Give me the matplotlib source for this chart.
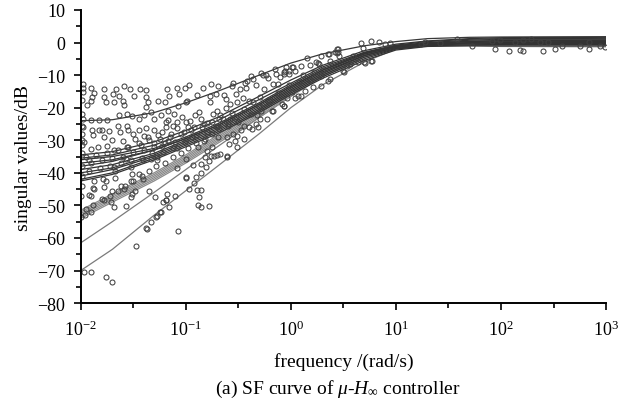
import numpy as np
import matplotlib
matplotlib.use('Agg')
import matplotlib.pyplot as plt
from matplotlib.ticker import FixedLocator, FuncFormatter

plt.rcParams['font.family'] = ['Liberation Serif', 'DejaVu Serif']
plt.rcParams['mathtext.fontset'] = 'custom'
plt.rcParams['mathtext.rm'] = 'Liberation Serif'
plt.rcParams['mathtext.it'] = 'Liberation Serif:italic'

# frequency grid of the singular value curves (rad/s)
freq = [0.01, 0.02, 0.05, 0.1, 0.2, 0.5, 1, 2, 5, 10, 20, 50, 100, 1000]

# singular value curves, dB
top_curve = [-24, -23.7, -21.5, -18.5, -15, -10, -6.3, -3.5, -1, 0.3, 1.2, 1.6, 1.7, 1.8]
dark_curves = [
    [-34.5, -33.5, -30.5, -27, -23, -16.5, -11.5, -7, -2.5, -0.5, 0.5, 1.2, 1.5, 1.6],
    [-35.5, -34.5, -31.5, -28, -24, -17.5, -12.5, -7.5, -3, -0.8, 0.3, 1, 1.2, 1.3],
    [-36, -35, -32.5, -29, -25, -18.5, -13, -8, -3.2, -1, 0, 0.7, 1, 1],
    [-37, -36, -33, -29.5, -25.5, -19, -13.5, -8.5, -3.5, -1.2, -0.2, 0.4, 0.6, 0.7],
    [-38, -36.5, -33, -29.5, -25.5, -19, -13.5, -8.5, -3.5, -1.2, -0.3, 0.3, 0.5, 0.5],
    [-39, -37.5, -34, -30, -26, -19.5, -14, -9, -4, -1.5, -0.5, 0, 0.2, 0.3],
    [-40, -38.5, -34.5, -30.5, -26.5, -20, -14.5, -9.5, -4, -1.5, -0.6, -0.2, 0, 0],
    [-41, -39, -35, -31, -27, -20.5, -15, -10, -4.5, -1.8, -0.8, -0.4, -0.3, -0.3],
    [-42, -40, -35.5, -31.5, -27.5, -21, -15.5, -10.5, -5, -2, -1, -0.7, -0.6, -0.6],
    [-42.5, -40.5, -36, -32, -28, -21.5, -16, -11, -5.5, -2.3, -1.2, -1, -1, -1],
]
gray_curves = [
    [-51.5, -46.5, -40, -34.5, -28.5, -20.5, -14, -8.5, -3, -1, -0.2, 0.3, 0.5, 0.5],
    [-52, -47, -40.5, -35, -29, -21, -14.5, -9, -3.3, -1.2, -0.3, 0.2, 0.3, 0.3],
    [-52.5, -47.5, -41, -35.5, -29.5, -21.5, -15, -9.3, -3.5, -1.3, -0.4, 0, 0.1, 0.1],
    [-53, -48, -41.5, -36, -30, -22, -15.5, -9.6, -3.7, -1.4, -0.5, -0.2, -0.2, -0.2],
    [-53.5, -48.5, -42, -36.5, -30.5, -22.5, -16, -10, -4, -1.5, -0.6, -0.4, -0.4, -0.4],
    [-54, -49, -42.5, -37, -31, -23, -16.5, -10.3, -4.2, -1.6, -0.8, -0.6, -0.6, -0.6],
]
low_curves = [
    [-61.5, -55, -46, -39, -32, -23, -16.5, -10.5, -4.5, -1.8, -0.8, -0.5, -0.5, -0.5],
    [-70, -63.5, -53, -45.5, -38, -28, -20, -13, -6, -2, -1, -1, -1.2, -1.3],
]

# measured points: (log10 frequency, dB)
pts_top = [
    (-1.98, -12.7), (-1.98, -13.9), (-1.98, -15.3), (-1.90, -13.9), (-1.87, -15.5), (-1.89, -16.8),
    (-1.90, -18.0), (-1.94, -19.1), (-1.78, -14.4), (-1.78, -16.8), (-1.76, -18.3), (-1.69, -15.8),
    (-1.66, -14.2), (-1.64, -16.3), (-1.68, -18.3), (-1.59, -13.4), (-1.60, -18.1), (-1.59, -19.1),
    (-1.53, -14.4), (-1.49, -16.3), (-1.44, -14.4), (-1.38, -14.7), (-1.38, -16.8), (-1.36, -18.3),
    (-1.38, -19.8), (-1.33, -21.4), (-1.26, -17.8), (-1.18, -14.2), (-1.16, -16.3), (-1.20, -18.3),
    (-1.08, -14.0), (-1.06, -15.8), (-1.01, -14.0), (-1.00, -18.3), (-1.07, -19.5), (-1.17, -20.9),
    (-1.11, -21.9), (-1.99, -17.5), (-1.99, -22.0),
]
pts_near_top = [
    (-1.98, -23.4), (-1.90, -23.9), (-1.83, -23.9), (-1.75, -23.9), (-1.64, -22.4), (-1.56, -21.9),
    (-1.51, -22.6), (-1.45, -23.4), (-1.40, -22.4), (-1.30, -23.4), (-1.24, -22.4), (-1.17, -23.9),
    (-1.99, -25.5), (-1.99, -28.0),
]
pts_mid = [
    (-1.98, -26.0), (-1.89, -27.0), (-1.83, -27.0), (-1.80, -27.0), (-1.73, -27.2), (-1.88, -28.5),
    (-1.78, -29.0), (-1.65, -25.7), (-1.63, -27.5), (-1.56, -25.5), (-1.55, -27.0), (-1.50, -28.0),
    (-1.45, -27.0), (-1.38, -26.3), (-1.36, -29.0), (-1.30, -27.0), (-1.26, -28.5), (-1.19, -26.0),
    (-1.23, -27.5), (-1.14, -28.0), (-1.08, -26.3), (-1.02, -27.5), (-1.08, -24.4), (-1.19, -24.4),
    (-1.97, -30.6), (-1.90, -32.6), (-1.84, -32.1), (-1.75, -31.8), (-1.68, -33.1), (-1.56, -32.1),
    (-1.43, -31.4), (-1.30, -30.8), (-1.23, -31.8), (-1.17, -30.1), (-1.08, -32.4), (-1.01, -30.4),
    (-1.99, -30.0), (-1.99, -31.5), (-1.99, -34.0),
    (-1.70, -29.8), (-1.60, -30.2), (-1.48, -29.5), (-1.40, -28.6), (-1.12, -25.5), (-1.04, -23.0),
    (-0.96, -24.0), (-0.92, -26.0), (-0.86, -23.5), (-0.80, -24.8), (-0.74, -22.0), (-0.68, -23.6),
]
pts_upper_right = [
    (-0.97, -13.0), (-0.84, -14.0), (-0.76, -12.7), (-0.69, -13.2), (-0.56, -13.4), (-0.44, -12.4),
    (-0.43, -14.0), (-0.36, -11.2), (-0.27, -10.1), (-0.24, -10.1), (-0.17, -12.7), (-0.14, -9.6),
    (-0.07, -9.1), (-0.02, -9.6), (-0.89, -16.1), (-0.77, -16.3), (-0.71, -15.8), (-0.64, -16.1),
    (-0.99, -17.8), (-0.77, -18.3), (-0.58, -18.9), (-0.51, -18.3), (-0.36, -18.3), (-0.29, -16.8),
    (-0.20, -18.1), (-0.07, -19.4), (-0.87, -21.4), (-0.70, -20.9), (-0.67, -22.4), (-0.91, -22.4),
    (-1.00, -24.5), (-0.98, -26.0), (-0.83, -25.0), (-0.70, -25.5), (-0.58, -23.5), (-0.45, -25.5),
    (-0.32, -22.4), (-0.29, -23.4), (-0.23, -23.4), (-0.17, -20.9), (-0.37, -26.5), (-0.31, -26.0),
    (-0.47, -27.0), (-0.51, -28.6), (-0.61, -29.1), (-0.69, -29.1), (-0.83, -30.1), (-0.94, -29.1),
    (-0.88, -32.2), (-0.75, -32.2), (-0.59, -31.1), (-0.51, -32.2), (-0.45, -29.6), (-0.53, -30.1),
    (-0.76, -34.7), (-0.70, -34.5), (-0.61, -34.7), (-0.80, -33.2),
    (-0.55, -12.5), (-0.48, -14.2), (-0.42, -11.8), (-0.38, -10.2), (-0.33, -13.0), (-0.28, -9.5),
    (-0.22, -11.0), (-0.15, -8.0), (-0.10, -10.5), (-0.05, -7.5), (-0.45, -20.5), (-0.38, -22.0),
    (-0.30, -19.5), (-0.22, -17.5), (-0.18, -21.0), (-0.12, -15.5), (-0.08, -19.0), (-0.50, -24.5),
    (-0.40, -26.0), (-0.55, -28.0), (-0.33, -25.0),
    (-0.62, -17.2), (-0.52, -15.8), (-0.46, -17.0), (-0.26, -14.2), (-0.12, -12.8), (-0.02, -13.0),
    (-0.62, -20.0), (-0.56, -21.5), (-0.40, -18.0), (-0.28, -21.0),
]
pts_lower = [
    (-2.00, -47.0), (-1.90, -47.0), (-1.88, -44.6), (-1.87, -42.4), (-1.79, -41.9), (-1.76, -42.4),
    (-1.67, -41.6), (-1.78, -44.4), (-1.70, -45.5), (-1.62, -43.9), (-1.59, -45.0), (-1.52, -42.4),
    (-1.52, -47.5), (-1.51, -40.3), (-1.45, -40.3), (-1.41, -41.9), (-1.41, -36.2), (-1.33, -35.7),
    (-1.27, -35.2), (-1.27, -36.2), (-1.57, -35.7), (-1.68, -38.3), (-1.67, -39.3), (-1.92, -36.2),
    (-1.52, -38.3), (-1.35, -45.5), (-1.29, -47.5), (-1.19, -48.5), (-1.16, -50.6), (-1.24, -52.1),
    (-1.27, -53.4), (-1.37, -57.2), (-1.07, -57.9), (-1.10, -47.0), (-1.00, -41.4), (-1.18, -46.5),
    (-1.08, -38.5), (-1.57, -50.1), (-1.68, -50.6), (-1.78, -48.5), (-1.96, -53.1), (-2.00, -53.6),
    (-1.71, -49.0), (-1.90, -52.1), (-1.51, -46.5), (-1.48, -45.5), (-1.99, -38.0), (-1.99, -41.0),
    (-1.99, -44.0), (-1.92, -46.8), (-1.87, -45.0),
    (-1.00, -35.8), (-0.93, -37.6), (-0.86, -37.3), (-0.81, -38.2), (-0.86, -40.1), (-0.90, -41.3),
    (-1.00, -41.6), (-0.92, -43.1), (-0.97, -45.0), (-0.89, -45.3), (-0.86, -45.3), (-0.87, -47.4),
    (-0.88, -49.9), (-0.86, -50.5), (-0.78, -50.2), (-0.82, -35.1), (-0.73, -34.8), (-0.78, -36.4),
    (-0.67, -34.2), (-0.61, -35.1),
    (-1.38, -57.0), (-1.33, -55.0), (-1.28, -53.6), (-1.25, -52.0), (-1.22, -49.0), (-1.19, -48.4),
    (-1.97, -70.5), (-1.90, -70.5), (-1.76, -72.0), (-1.70, -73.5), (-1.47, -62.5),
]
pts_bundles = [
    (-1.95, -35), (-1.90, -37), (-1.85, -34.5), (-1.80, -36), (-1.75, -34), (-1.70, -35.5),
    (-1.65, -33), (-1.60, -35), (-1.55, -32), (-1.50, -33.5), (-1.45, -31), (-1.40, -33),
    (-1.35, -30), (-1.30, -32), (-1.25, -29.5), (-1.20, -31), (-1.15, -29), (-1.10, -30.5),
    (-1.05, -28), (-1.00, -29.5), (-0.95, -27), (-0.90, -28.5), (-0.85, -26), (-0.80, -27.5),
    (-0.75, -24.5), (-0.70, -26), (-0.65, -23.5), (-0.60, -25), (-1.92, -39.5), (-1.82, -38.5),
    (-1.72, -38), (-1.62, -37), (-1.52, -36), (-1.42, -35.5), (-1.32, -34), (-1.22, -33.5),
    (-1.12, -32.5),
    (-1.95, -51), (-1.88, -50), (-1.80, -48), (-1.72, -47), (-1.65, -45.5), (-1.58, -44),
    (-1.50, -42.5), (-1.42, -41), (-1.35, -39.5), (-1.28, -38), (-1.20, -37), (-1.12, -35),
    (-1.05, -34), (-0.98, -32.5), (-0.90, -31), (-0.82, -29.5), (-0.75, -28), (-0.68, -26.5),
    (-0.60, -25.5), (-0.52, -23),
]
pts_high = [
    (0.02, -7.6), (0.04, -8.6), (0.10, -7.1), (0.18, -6.9), (0.24, -6.1), (0.27, -6.6),
    (0.35, -3.5), (0.37, -5.6), (0.42, -3.0), (0.44, -2.0), (0.45, -3.0), (0.46, -4.0),
    (0.50, -8.6), (0.51, -9.1), (0.56, -6.6), (0.29, -10.2), (0.35, -11.7), (0.21, -13.7),
    (0.13, -14.8), (0.07, -16.3), (0.10, -16.5), (0.01, -15.3), (0.37, -11.2), (0.64, -6.1),
    (0.70, -6.1), (0.76, -5.6), (0.67, -0.1), (0.76, 0.6), (0.84, 0.1), (0.90, -0.4),
    (0.94, -0.1), (0.69, -1.8), (0.59, -4.0), (0.01, -7.6), (-0.02, -8.6),
    (1.28, 0.2), (1.42, 0.0), (1.58, 1.0), (1.91, 0.5), (1.99, 0.8), (2.13, 0.2), (2.21, 0.8),
    (2.29, 1.0), (2.37, 0.2), (2.45, 0.2), (1.94, -2.1), (2.08, -2.6), (2.18, -2.3), (2.21, -2.6),
    (2.40, -2.6), (2.51, -1.9), (2.58, -1.0), (2.75, -1.0), (2.84, 0.2), (2.84, -2.1), (2.94, -1.0),
    (2.99, -1.3), (1.72, -1.0), (1.24, -0.5),
    (0.45, -2.1), (0.44, -3.1), (0.29, -4.1), (0.36, -3.6), (0.26, -6.2), (0.53, -7.2),
    (0.56, -6.7), (0.71, -6.2), (0.77, -5.7), (0.29, -13.4), (0.04, -17.0), (-0.07, -19.6),
    (-0.04, -17.0), (-0.06, -8.8), (-0.07, -9.8),
    (0.12, -10.0), (0.18, -11.5), (0.22, -9.0), (0.08, -12.0), (0.15, -4.8), (0.31, -8.4),
]

fig = plt.figure(figsize=(6.21, 4.06), dpi=100)
ax = fig.add_axes([0.130, 0.251, 0.846, 0.722])

for c in low_curves:
    ax.plot(freq, c, color='#7a7a7a', lw=0.9)
for c in gray_curves:
    ax.plot(freq, c, color='#8a8a8a', lw=0.9)
for c in dark_curves:
    ax.plot(freq, c, color='#333333', lw=0.9)
ax.plot(freq, top_curve, color='#383838', lw=0.9)

pts = pts_top + pts_near_top + pts_mid + pts_upper_right + pts_lower + pts_bundles + pts_high
lf = np.array([p[0] for p in pts])
db = np.array([p[1] for p in pts])
ax.plot(10 ** lf, db, 'o', mfc='none', mec='#404040', ms=3.6, mew=0.75, ls='none')

ax.set_xscale('log')
ax.set_xlim(1e-2, 1e3)
ax.set_ylim(-80, 10)
ax.set_yticks(np.arange(-80, 11, 10))
ax.yaxis.set_minor_locator(FixedLocator(np.arange(-75, 10, 10)))
ax.xaxis.set_major_locator(FixedLocator([1e-2, 1e-1, 1e0, 1e1, 1e2, 1e3]))
ax.xaxis.set_minor_locator(FixedLocator([10 ** (k + 0.5) for k in range(-2, 3)]))
ax.xaxis.set_major_formatter(FuncFormatter(lambda v, p: r'$10^{%d}$' % round(np.log10(v))))
ax.xaxis.set_minor_formatter(FuncFormatter(lambda v, p: ''))

for s in ['top', 'right']:
    ax.spines[s].set_visible(False)
for s in ['left', 'bottom']:
    ax.spines[s].set_linewidth(1.4)
ax.tick_params(which='major', direction='out', length=5, width=1.2, labelsize=13, pad=7)
ax.tick_params(which='minor', direction='out', length=3.5, width=1.2)
ax.tick_params(axis='y', which='major', pad=6)

ax.set_xlabel('frequency /(rad/s)', fontsize=14, labelpad=9)
ax.set_ylabel('singular values/dB', fontsize=14, labelpad=4)
fig.text(0.543, 0.040, r'(a) SF curve of $\mu$-$H_{\infty}$ controller', fontsize=14,
         ha='center', va='center')

fig.savefig('out.png', dpi=100)
